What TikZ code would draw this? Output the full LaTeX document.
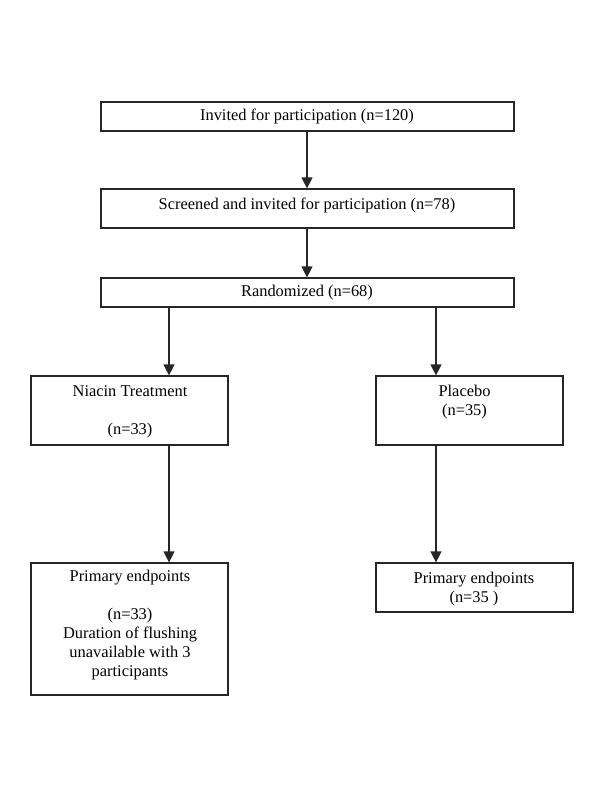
\documentclass[tikz,border=0pt]{standalone}
\usepackage{fontspec}
\setmainfont{Liberation Serif}
\usetikzlibrary{arrows.meta}
\begin{document}
\begin{tikzpicture}[x=1pt,y=-1pt,
  box/.style={draw=black!85,line width=1.2pt,inner sep=0pt,fill=none},
  txt/.style={font=\fontsize{16.4}{19}\selectfont,align=center,inner sep=0pt},
  arr/.style={draw=black!85,line width=1.2pt,-{Triangle[length=11pt,width=11pt]}}]
\useasboundingbox[fill=white] (0,0) rectangle (600,787);
% boxes
\node[box,minimum width=413pt,minimum height=29pt] (b1) at (307.5,116.5) {};
\node[box,minimum width=413pt,minimum height=39pt] (b2) at (307.5,208.5) {};
\node[box,minimum width=413pt,minimum height=29pt] (b3) at (307.5,292.5) {};
\node[box,minimum width=197pt,minimum height=69pt] (nia) at (129.5,410.5) {};
\node[box,minimum width=187pt,minimum height=69pt] (pla) at (469.5,410.5) {};
\node[box,minimum width=197pt,minimum height=132pt] (pl) at (129.5,629) {};
\node[box,minimum width=197pt,minimum height=49pt] (pr) at (474.5,587.5) {};
% texts
\node[txt] (t1) at (307,116) {Invited for participation (n=120)};
\node[txt] (t2) at (307,205) {Screened and invited for participation (n=78)};
\node[txt] (t3) at (307,293) {Randomized (n=68)};
\node[txt] (t4) at (130,411.5) {Niacin Treatment\\ \mbox{}\\ (n=33)};
\node[txt] (t5) at (464.5,402) {Placebo\\ (n=35)};
\node[txt] (t6) at (130,625.5) {Primary endpoints\\ \mbox{}\\ (n=33)\\ Duration of flushing\\ unavailable with 3\\ participants};
\node[txt] (t7) at (474,589) {Primary endpoints\\ (n=35 )};
% arrow columns
\coordinate (cm) at (307,0);
\coordinate (cl) at (169,0);
\coordinate (cr) at (436,0);
\draw[arr] (b1.south -| cm) -- (b2.north -| cm);
\draw[arr] (b2.south -| cm) -- (b3.north -| cm);
\draw[arr] (b3.south -| cl) -- (nia.north -| cl);
\draw[arr] (b3.south -| cr) -- (pla.north -| cr);
\draw[arr] (nia.south -| cl) -- (pl.north -| cl);
\draw[arr] (pla.south -| cr) -- (pr.north -| cr);
\end{tikzpicture}
\end{document}
